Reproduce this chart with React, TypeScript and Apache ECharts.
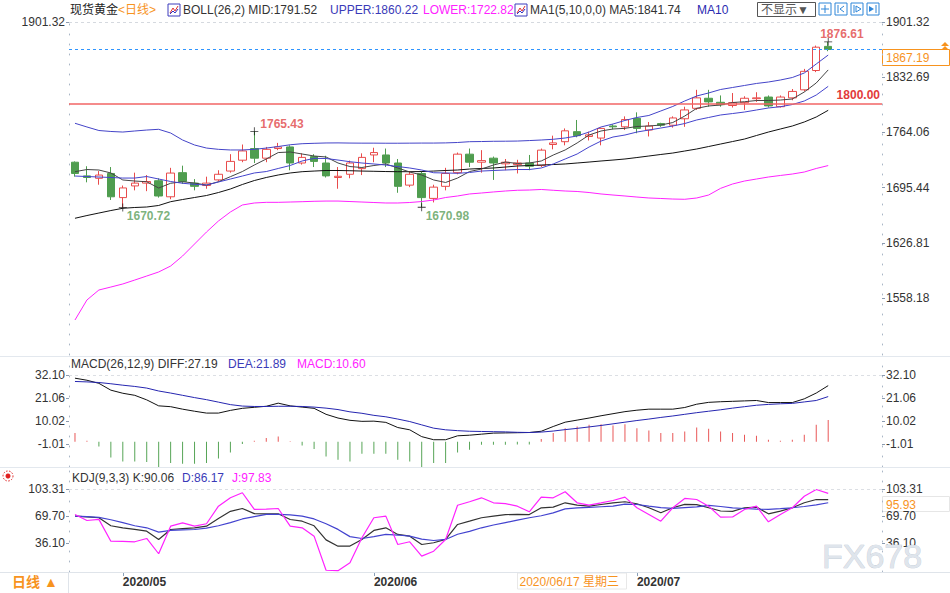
import React, { useEffect, useRef } from "react";
import * as echarts from "echarts";

const FONT = "'Liberation Sans', Arial, 'Noto Sans CJK SC', sans-serif";

const dates: string[] = [
  "2020/04/27","2020/04/28","2020/04/29","2020/04/30",
  "2020/05/01","2020/05/04","2020/05/05","2020/05/06","2020/05/07","2020/05/08",
  "2020/05/11","2020/05/12","2020/05/13","2020/05/14","2020/05/15",
  "2020/05/18","2020/05/19","2020/05/20","2020/05/21","2020/05/22",
  "2020/05/25","2020/05/26","2020/05/27","2020/05/28","2020/05/29",
  "2020/06/01","2020/06/02","2020/06/03","2020/06/04","2020/06/05",
  "2020/06/08","2020/06/09","2020/06/10","2020/06/11","2020/06/12",
  "2020/06/15","2020/06/16","2020/06/17","2020/06/18","2020/06/19",
  "2020/06/22","2020/06/23","2020/06/24","2020/06/25","2020/06/26",
  "2020/06/29","2020/06/30",
  "2020/07/01","2020/07/02","2020/07/03",
  "2020/07/06","2020/07/07","2020/07/08","2020/07/09","2020/07/10",
  "2020/07/13","2020/07/14","2020/07/15","2020/07/16","2020/07/17",
  "2020/07/20","2020/07/21","2020/07/22","2020/07/23",
];
const futureDates: string[] = ["2020/07/24", "2020/07/27", "2020/07/28", "2020/07/29"];
const categories = dates.concat(futureDates);

// [open, close, low, high]
const candles: number[][] = [
  [1727,1713,1709,1728],[1710,1708,1702,1722],[1707,1711,1699,1716],[1713,1684,1680,1721],
  [1683,1695,1670.72,1698],[1697.5,1701,1692,1714],[1701,1703,1691,1711],[1704,1685,1683,1707],
  [1684,1713.5,1681,1720],[1714,1703,1700,1722.7],[1701,1697,1692,1706],[1698,1701,1694,1709],
  [1705,1712,1703,1717],[1716,1728,1714,1737],[1729.5,1741,1727,1749],[1744,1732,1726,1765.43],
  [1732,1743,1727,1746],[1744,1746,1742,1751],[1746,1726,1717,1748],[1726,1733,1724,1738],
  [1734,1728,1721,1737],[1726,1710,1708,1735],[1708,1709.5,1694,1721],[1712,1726,1707,1729],
  [1719,1733,1711,1738],[1736,1739,1727,1745],[1736,1726,1721,1744],[1726,1697,1689,1731],
  [1698.5,1712,1696,1716],[1713,1683,1670.98,1716],[1682,1696,1677,1699],[1697,1713,1692,1720],
  [1714,1737,1712,1739],[1737,1727,1721,1744],[1727,1729,1714,1742],[1732,1726,1705,1734],
  [1725,1727,1717,1731],[1724,1726,1713,1730],[1726,1722,1717,1736],[1723,1742,1721,1744],
  [1749,1751,1743,1760],[1752.5,1766,1748,1769],[1765,1760,1758,1779.5],[1759,1761,1754,1765],
  [1757,1769,1748,1770],[1772,1771,1768,1774],[1771,1780,1767,1784],[1781.5,1769,1763,1789],
  [1767,1772,1759,1777],[1775,1773,1771,1776],[1773,1782,1770,1784],[1781,1792,1771,1796],
  [1794,1807,1792,1817],[1806.5,1802,1796,1817],[1801.5,1798.5,1796,1810],[1797.5,1801,1795,1813],
  [1801,1806.5,1792,1809],[1806,1807,1802,1814],[1808,1797,1795,1810],[1796,1808,1795,1810],
  [1807,1815,1804,1818],[1817,1840,1815,1843],[1841,1870,1839,1872],[1871,1867.19,1865,1876.61],
];

const bollMid: number[] = [
  1657.3,1660.7,1663.8,1666.9,1669.7,1670.7,1671.3,1673.2,1677.9,1680.6,
  1683.1,1685.6,1689.3,1693.7,1699.3,1704.2,1708.0,1711.1,1713.6,1715.2,
  1716.0,1716.7,1716.7,1716.4,1716.0,1715.7,1715.4,1715.2,1715.2,1715.4,
  1716.0,1716.7,1717.3,1718.5,1719.2,1719.8,1721.0,1722.3,1722.9,1723.5,
  1724.1,1724.8,1726.0,1727.2,1728.5,1729.7,1731.0,1732.8,1734.7,1736.6,
  1738.4,1740.9,1743.4,1746.5,1749.6,1752.7,1755.8,1760.2,1764.5,1768.3,
  1772.0,1777.0,1783.2,1791.52,
];
const bollUpper: number[] = [
  1775.4,1770.8,1766.4,1765.2,1764.5,1765.8,1767.0,1767.9,1763.3,1754.6,
  1748.4,1744.6,1743.0,1742.2,1742.2,1743.0,1744.6,1746.5,1748.7,1750.0,
  1750.5,1750.9,1751.0,1750.8,1750.7,1750.7,1750.6,1750.6,1750.7,1750.8,
  1750.8,1751.0,1751.5,1752.5,1752.7,1753.0,1753.1,1753.3,1753.9,1754.6,
  1755.5,1757.1,1759.6,1764.5,1770.8,1774.5,1778.9,1782.6,1785.1,1790.7,
  1796.3,1803.1,1809.3,1813.1,1817.4,1819.9,1822.4,1824.9,1826.7,1829.2,
  1832.3,1837.9,1849.1,1860.22,
];
const bollLower: number[] = [
  1530.8,1555.7,1568.1,1571.8,1575.6,1580.5,1585.5,1590.5,1597.9,1610.4,
  1625.3,1640.2,1653.9,1665.1,1673.8,1676.3,1677.1,1677.1,1677.5,1677.9,
  1678.4,1678.7,1678.7,1678.1,1677.5,1676.9,1676.3,1676.3,1676.9,1678.1,
  1680.0,1683.1,1685.0,1687.5,1688.7,1690.0,1691.2,1692.1,1692.4,1693.1,
  1692.1,1691.2,1690.6,1689.3,1687.5,1686.2,1685.0,1683.7,1682.5,1681.9,
  1681.2,1680.9,1682.5,1686.2,1694.5,1699.9,1703.6,1706.1,1708.6,1710.5,
  1712.3,1714.8,1719.2,1722.82,
];
const ma5: number[] = [
  1715.2,1717.9,1717.3,1713.6,1704.9,1703.6,1702.7,1694.9,1700.8,1702.7,
  1701.1,1698.6,1702.7,1709.0,1715.4,1723.5,1731.0,1739.0,1739.7,1737.2,
  1734.7,1733.5,1726.0,1721.6,1720.4,1722.9,1724.8,1719.8,1714.8,1711.1,
  1704.9,1701.8,1707.3,1715.4,1718.5,1723.5,1727.2,1725.4,1726.0,1728.5,
  1735.9,1742.2,1750.9,1760.8,1765.8,1768.3,1769.1,1771.4,1772.0,1773.2,
  1776.3,1784.4,1794.0,1796.9,1798.1,1801.2,1802.2,1803.7,1803.7,1804.3,
  1805.6,1814.3,1825.5,1841.74,
];
const ma10: number[] = [
  1709.8,1709.2,1708.6,1708.0,1707.3,1707.3,1709.2,1706.1,1703.0,1700.8,
  1699.5,1698.6,1702.4,1706.1,1709.8,1713.6,1715.4,1719.2,1722.9,1728.5,
  1731.8,1731.6,1729.7,1727.6,1726.0,1724.8,1723.5,1721.6,1719.8,1717.3,
  1713.9,1713.6,1713.2,1714.2,1716.0,1716.7,1717.3,1717.9,1717.9,1719.8,
  1724.8,1731.0,1737.2,1745.9,1753.3,1758.3,1760.8,1764.5,1767.0,1769.5,
  1772.0,1775.1,1779.5,1782.6,1785.7,1787.5,1789.4,1791.9,1794.4,1796.0,
  1798.7,1803.1,1810.5,1821.3,
];

const macdDiff: number[] = [
  30.8,29.8,28.3,25.0,23.5,22.5,20.3,17.4,17.0,15.8,
  14.8,13.9,13.9,15.2,16.2,16.7,17.2,18.7,17.4,16.8,
  16.2,13.3,11.5,10.4,9.9,10.0,9.4,6.9,5.8,2.5,
  1.0,1.0,2.9,3.2,3.7,4.2,4.3,4.4,4.5,5.1,
  7.4,9.5,10.5,11.5,12.6,13.6,14.6,15.3,15.8,15.8,
  15.8,16.6,18.2,19.1,19.4,19.6,19.8,20.0,19.0,19.0,
  19.0,20.8,23.6,27.19,
];
const macdDea: number[] = [
  29.2,29.0,28.7,28.1,27.4,26.8,26.0,24.6,23.6,22.5,
  21.4,20.4,19.2,18.0,17.3,17.1,17.1,17.2,17.2,17.1,
  16.8,16.3,15.6,14.5,13.8,12.8,12.1,11.0,9.8,8.2,
  6.6,5.8,5.4,5.1,5.0,4.9,4.8,4.6,4.5,4.7,
  5.2,5.9,6.5,7.2,7.9,8.7,9.5,10.3,11.0,11.8,
  12.5,13.3,14.1,14.8,15.5,16.3,17.0,17.7,18.1,18.4,
  18.6,19.3,20.0,21.89,
];
const macdHist: number[] = [
  4.2,0.5,-2.3,-7.6,-9.5,-9.5,-9.8,-12.3,-10.3,-10.6,
  -10.6,-10.3,-8.1,-5.2,-1.1,0.5,1.8,2.6,0.3,-1.8,
  -3.5,-7.1,-8.7,-9.5,-5.8,-5.8,-5.8,-8.7,-9.5,-12.3,
  -10.3,-10.3,-5.2,-3.8,-1.4,-1.4,-1.4,-1.3,-1.3,1.3,
  4.2,6.6,7.4,8.2,8.5,7.9,8.5,6.6,5.5,4.2,
  4.2,5.0,6.9,6.3,5.0,4.2,3.4,2.9,1.0,0.5,
  1.0,3.4,8.2,10.6,
];

const kdjK: number[] = [
  69.5,68.5,67.5,57.5,55,53,50.8,40.5,52.9,54,
  55,57,66.5,75.5,79,72.6,72.2,72.5,65.3,63.2,
  57.5,40,32.1,32.3,40.5,51.7,55,46.7,44.6,34.2,
  36.4,40.5,59.1,63.2,67.5,69.5,71.4,71.8,71.5,79.9,
  80.7,86.1,83.1,81.9,84,86.1,87.4,84.9,79.9,73.7,
  79.9,84.2,83.8,79.9,75.9,75.5,79.9,80.7,72.4,75.7,
  79.9,86.1,90.2,90.06,
];
const kdjD: number[] = [
  69.5,69,68,65,61.5,57.5,55,49.6,51.7,52.3,
  52.9,54.5,57.5,61.5,66,69,71.6,71.7,71,69.5,
  66,60,53,44,41.7,44,46.7,46,44.6,41,
  39.2,40.5,47,50.5,55,58.5,61.5,64.5,67.5,70,
  73.5,78.5,79.8,80.5,81.2,81.9,84.5,84,82,80.2,
  79.2,80.2,81,83,81.5,79.8,79,78.3,77.8,78.8,
  79.9,81.5,83.5,86.17,
];
const kdjJ: number[] = [
  71.6,64.1,65.5,38.3,38,37.6,41.7,22.7,57,61.2,
  57,60,81.9,92.3,98.6,77.8,78.2,79,57,55,
  44.6,2.2,1.6,11.5,42.6,67.5,69.5,34.2,37.6,19.7,
  25.9,40.5,83,87.4,92.3,86.1,85,81.9,74.9,93.1,
  92.3,99.8,86.1,83.1,86,89,93.1,79.9,71.6,63.2,
  79.9,91.5,90.2,81.9,68.2,68.4,77.8,81.9,62.5,71.6,
  79.9,94.3,102.7,97.83,
];

const mainTicks: number[] = [1901.32, 1832.69, 1764.06, 1695.44, 1626.81, 1558.18];
const mainLeftTicks: number[] = [1901.32];
const macdTicks: number[] = [32.10, 21.06, 10.02, -1.01];
const kdjTicks: number[] = [103.31, 69.70, 36.10];

const extremeDates: string[] = ["2020/05/01", "2020/05/18", "2020/06/05", "2020/07/23"];
const extremeValues: number[] = [1670.72, 1765.43, 1670.98, 1876.61];
const extremeIsHigh: boolean[] = [false, true, false, true];

const supportLevel = 1800;
const kdjMarkValue = 95.93;
const hoverDate = "2020/06/17";

const RED = "#e84b4b";
const GREEN = "#4f9d4f";
const ORANGE = "#f7931e";
const BLUE = "#3a3ab8";
const MAGENTA = "#ff22ff";

const last = (a: number[]) => a[a.length - 1];
const fmt = (v: number) => v.toFixed(2);

function isMonthStart(idx: number, val: string) {
  if (idx <= 0 || idx >= dates.length) return false;
  return val.slice(0, 7) !== categories[idx - 1].slice(0, 7);
}

function makeY(gridIndex: number, position: string, min: number, max: number, ticks: number[]) {
  return {
    type: "value",
    gridIndex,
    position,
    min,
    max,
    splitLine: { show: false },
    axisLine: { show: true, onZero: false, lineStyle: { color: "#a9b6c6", type: [1, 9] } },
    axisTick: { show: true, customValues: ticks, length: 3, lineStyle: { color: "#8b9bb0" } },
    axisLabel: {
      show: true,
      customValues: ticks,
      formatter: (v: number) => fmt(v),
      color: "#333",
      fontSize: 12,
      fontFamily: FONT,
      margin: 4,
    },
  };
}

const lineSeries = (name: string, data: number[], xi: number, yi: number, color: string, width = 1) => ({
  type: "line",
  name,
  data,
  xAxisIndex: xi,
  yAxisIndex: yi,
  symbol: "none",
  silent: true,
  lineStyle: { color, width },
  z: 4,
});

function buildOption(): any {
  const baseX = {
    type: "category",
    data: categories,
    boundaryGap: true,
    axisLine: { show: false },
    axisTick: { show: false },
    axisLabel: { show: false },
    splitLine: { show: false },
  };
  const labelPos = extremeIsHigh.map((h, i) => (i === 3 ? [-4, -4] : h ? [10, -3] : [8, 13]));
  return {
    animation: false,
    textStyle: { fontFamily: FONT },
    grid: [
      { left: 69, right: 68, top: 21, height: 334 },
      { left: 69, right: 68, top: 360, height: 107 },
      { left: 69, right: 68, top: 470, height: 102 },
    ],
    xAxis: [
      { ...baseX, gridIndex: 0 },
      { ...baseX, gridIndex: 1 },
      {
        ...baseX,
        gridIndex: 2,
        axisLine: { show: true, lineStyle: { color: "#dde3ea" } },
        axisTick: { show: true, alignWithLabel: true, interval: isMonthStart, length: 4, lineStyle: { color: "#8aa0b8" } },
        axisLabel: {
          show: true,
          interval: isMonthStart,
          formatter: (v: string) => v.slice(0, 7),
          align: "left",
          color: "#333",
          fontWeight: "bold",
          fontSize: 12,
          fontFamily: FONT,
          margin: 4,
        },
      },
    ],
    yAxis: [
      makeY(0, "right", 1487.3, 1902.56, mainTicks),
      makeY(0, "left", 1487.3, 1902.56, mainLeftTicks),
      makeY(1, "right", -12.2, 39.6, macdTicks),
      makeY(1, "left", -12.2, 39.6, macdTicks),
      makeY(2, "right", 0, 126.9, kdjTicks),
      makeY(2, "left", 0, 126.9, kdjTicks),
    ],
    series: [
      {
        type: "candlestick",
        name: "现货黄金",
        data: candles,
        xAxisIndex: 0,
        yAxisIndex: 0,
        barWidth: 8,
        silent: true,
        z: 3,
        itemStyle: { color: "#ffffff", color0: GREEN, borderColor: RED, borderColor0: GREEN, borderWidth: 1 },
        markLine: {
          silent: true,
          symbol: ["none", "none"],
          animation: false,
          data: [
            { yAxis: mainTicks[0], lineStyle: { color: "#d5d9df", type: [3, 3], width: 1 }, label: { show: false } },
            { yAxis: last(candles)[1], lineStyle: { color: "#2f95ff", type: [3, 3], width: 1 }, label: { show: false } },
            {
              yAxis: supportLevel,
              lineStyle: { color: "#f26464", type: "solid", width: 1.5 },
              label: {
                show: true,
                position: "insideEndTop",
                formatter: fmt(supportLevel),
                color: "#e23a3a",
                fontWeight: "bold",
                fontSize: 12,
                fontFamily: FONT,
                distance: 2,
              },
            },
          ],
        },
      },
      lineSeries("MID", bollMid, 0, 0, "#111111"),
      lineSeries("UPPER", bollUpper, 0, 0, "#4444c8"),
      lineSeries("LOWER", bollLower, 0, 0, MAGENTA),
      lineSeries("MA5", ma5, 0, 0, "#444444"),
      lineSeries("MA10", ma10, 0, 0, "#4444cc"),
      {
        type: "scatter",
        name: "extremes",
        xAxisIndex: 0,
        yAxisIndex: 0,
        silent: true,
        z: 6,
        symbol: "path://M0 4.5L10 4.5L10 5.5L0 5.5Z M4.5 0L5.5 0L5.5 10L4.5 10Z",
        symbolSize: 8,
        itemStyle: { color: "#000" },
        data: extremeDates.map((d, i) => ({
          value: [d, extremeValues[i]],
          label: {
            show: true,
            formatter: fmt(extremeValues[i]),
            position: labelPos[i],
            align: "left",
            verticalAlign: "middle",
            color: extremeIsHigh[i] ? "#e04545" : "#5a9e5a",
            fontWeight: "bold",
            fontSize: 12,
            fontFamily: FONT,
          },
        })),
      },
      {
        type: "bar",
        name: "MACD",
        data: macdHist,
        xAxisIndex: 1,
        yAxisIndex: 2,
        barWidth: 1,
        silent: true,
        itemStyle: { color: (p: any) => (p.value >= 0 ? "#e95757" : "#57a557") },
      },
      {
        ...lineSeries("DIFF", macdDiff, 1, 2, "#111111"),
        markLine: {
          silent: true,
          symbol: ["none", "none"],
          animation: false,
          data: [{ yAxis: macdTicks[0], lineStyle: { color: "#dcdfe4", type: [3, 3], width: 1 }, label: { show: false } }],
        },
      },
      lineSeries("DEA", macdDea, 1, 2, "#2525b0"),
      {
        ...lineSeries("K", kdjK, 2, 4, "#333333", 1.2),
        markLine: {
          silent: true,
          symbol: ["none", "none"],
          animation: false,
          data: [{ yAxis: kdjTicks[0], lineStyle: { color: "#dcdfe4", type: [3, 3], width: 1 }, label: { show: false } }],
        },
      },
      lineSeries("D", kdjD, 2, 4, "#4343cf", 1.2),
      lineSeries("J", kdjJ, 2, 4, MAGENTA, 1.2),
    ],
  };
}

function txt(x: number, y: number, text: string, fill: string, extra: any = {}) {
  return {
    type: "text",
    x,
    y,
    silent: true,
    z: 50,
    style: {
      text,
      fill,
      fontSize: 12,
      fontFamily: FONT,
      verticalAlign: "middle",
      textVerticalAlign: "middle",
      ...extra,
    },
  };
}

function legendIcon(x: number, y: number) {
  return {
    type: "group",
    x,
    y,
    silent: true,
    z: 50,
    children: [
      { type: "rect", shape: { x: 0, y: 0, width: 12, height: 12 }, style: { fill: "#fff", stroke: "#3d3dbd", lineWidth: 1 } },
      { type: "polyline", shape: { points: [[2, 9], [5, 4], [7, 7], [10, 2]] }, style: { stroke: "#e03030", fill: null, lineWidth: 1 } },
      { type: "polyline", shape: { points: [[2, 10], [5, 7], [7, 9], [10, 5]] }, style: { stroke: "#3030c0", fill: null, lineWidth: 1 } },
    ],
  };
}

function toolButton(x: number, kind: number) {
  const glyph: any[] = [];
  const s = { stroke: "#2f86d8", lineWidth: 1, fill: null };
  if (kind === 0) {
    glyph.push({ type: "line", shape: { x1: 6, y1: 2, x2: 6, y2: 10 }, style: s });
    glyph.push({ type: "line", shape: { x1: 2, y1: 6, x2: 10, y2: 6 }, style: s });
  } else if (kind === 1) {
    glyph.push({ type: "line", shape: { x1: 3, y1: 2, x2: 3, y2: 10 }, style: s });
    glyph.push({ type: "polyline", shape: { points: [[9, 3], [5, 6], [9, 9]] }, style: s });
  } else if (kind === 2) {
    glyph.push({ type: "line", shape: { x1: 3, y1: 2, x2: 3, y2: 10 }, style: s });
    glyph.push({ type: "polygon", shape: { points: [[5, 3], [10, 6], [5, 9]] }, style: s });
  } else {
    glyph.push({ type: "polygon", shape: { points: [[2, 3], [7, 6], [2, 9]] }, style: { fill: "#2f86d8" } });
    glyph.push({ type: "line", shape: { x1: 9, y1: 2, x2: 9, y2: 10 }, style: s });
  }
  return {
    type: "group",
    x,
    y: 3,
    silent: true,
    z: 50,
    children: [
      { type: "rect", shape: { x: 0, y: 0, width: 12, height: 12 }, style: { fill: "#fff", stroke: "#2f86d8", lineWidth: 1 } },
      ...glyph,
    ],
  };
}

function buildGraphics(chart: echarts.ECharts): any[] {
  const yPrice = chart.convertToPixel({ yAxisIndex: 0 } as any, last(candles)[1]) as number;
  const yKdj = chart.convertToPixel({ yAxisIndex: 4 } as any, kdjMarkValue) as number;
  const xHover = chart.convertToPixel({ xAxisIndex: 2 } as any, hoverDate) as number;
  const weekNames = ["星期日", "星期一", "星期二", "星期三", "星期四", "星期五", "星期六"];
  const hoverText = `${hoverDate} ${weekNames[new Date(hoverDate).getDay()]}`;
  const sep = { stroke: "#e3e8ee", lineWidth: 1 };
  return [
    { type: "line", silent: true, z: 1, shape: { x1: 0, y1: 356.5, x2: 950, y2: 356.5 }, style: sep },
    { type: "line", silent: true, z: 1, shape: { x1: 0, y1: 467.5, x2: 950, y2: 467.5 }, style: sep },
    { type: "line", silent: true, z: 1, shape: { x1: 0, y1: 572.5, x2: 950, y2: 572.5 }, style: { stroke: "#dfe4ea", lineWidth: 1 } },
    { type: "line", silent: true, z: 1, shape: { x1: 68.5, y1: 572, x2: 68.5, y2: 593 }, style: { stroke: "#dfe4ea", lineWidth: 1 } },
    txt(70, 10, "现货黄金", "#222"),
    txt(118, 10, "<日线>", ORANGE),
    legendIcon(168, 4),
    txt(183, 10, `BOLL(26,2) MID:${fmt(last(bollMid))}`, "#333"),
    txt(330, 10, `UPPER:${fmt(last(bollUpper))}`, BLUE),
    txt(423, 10, `LOWER:${fmt(last(bollLower))}`, MAGENTA),
    legendIcon(515, 4),
    txt(530, 10, `MA1(5,10,0,0) MA5:${fmt(last(ma5))}`, "#333"),
    txt(697, 10, "MA10", "#2a2ab0"),
    {
      type: "rect",
      silent: true,
      z: 50,
      shape: { x: 757.5, y: 2.5, width: 58, height: 14 },
      style: { fill: "#fff", stroke: "#555", lineWidth: 1 },
    },
    txt(761, 10, "不显示▼", "#555"),
    toolButton(819, 0),
    toolButton(835, 1),
    toolButton(851, 2),
    toolButton(867, 3),
    txt(71, 364, `MACD(26,12,9) DIFF:${fmt(last(macdDiff))}`, "#333"),
    txt(228, 364, `DEA:${fmt(last(macdDea))}`, BLUE),
    txt(297, 364, `MACD:${fmt(last(macdHist))}`, MAGENTA),
    txt(72, 478, `KDJ(9,3,3) K:${fmt(last(kdjK))}`, "#333"),
    txt(182, 478, `D:${fmt(last(kdjD))}`, BLUE),
    txt(232, 478, `J:${fmt(last(kdjJ))}`, MAGENTA),
    { type: "circle", silent: true, z: 50, shape: { cx: 8, cy: 476, r: 2.5 }, style: { fill: "#e02020" } },
    { type: "circle", silent: true, z: 50, shape: { cx: 8, cy: 476, r: 5 }, style: { fill: null, stroke: "#e02020", lineWidth: 1, lineDash: [1.5, 1.5] } },
    txt(12, 582, "日线 ▲", ORANGE, { fontSize: 14, fontWeight: "bold" }),
    {
      type: "group",
      x: 882,
      y: Math.round(yPrice) + 0.5,
      silent: true,
      z: 60,
      children: [
        { type: "rect", shape: { x: 0.5, y: 0, width: 67, height: 16 }, style: { fill: "#fff", stroke: ORANGE, lineWidth: 1 } },
        { type: "text", x: 4, y: 8.5, style: { text: fmt(last(candles)[1]), fill: ORANGE, fontSize: 12, fontFamily: FONT, verticalAlign: "middle", textVerticalAlign: "middle" } },
      ],
    },
    { type: "polygon", silent: true, z: 60, shape: { points: [[941, 46], [945, 42], [949, 46]] }, style: { fill: ORANGE } },
    { type: "polygon", silent: true, z: 60, shape: { points: [[941, 50], [945, 46], [949, 50]] }, style: { fill: ORANGE } },
    {
      type: "group",
      x: 882,
      y: Math.round(yKdj) + 1.5,
      silent: true,
      z: 60,
      children: [
        { type: "rect", shape: { x: 0.5, y: 0, width: 67, height: 15 }, style: { fill: "#fff", stroke: "#e6e6e6", lineWidth: 1 } },
        { type: "text", x: 4, y: 8, style: { text: fmt(kdjMarkValue), fill: ORANGE, fontSize: 12, fontFamily: FONT, verticalAlign: "middle", textVerticalAlign: "middle" } },
      ],
    },
    {
      type: "group",
      x: Math.round(xHover) + 0.5,
      y: 573,
      silent: true,
      z: 60,
      children: [
        { type: "rect", shape: { x: 0, y: 0, width: 109, height: 16 }, style: { fill: "#fff", stroke: "#e8e8e8", lineWidth: 1 } },
        { type: "text", x: 2, y: 8.5, style: { text: hoverText, fill: ORANGE, fontSize: 12, fontFamily: FONT, verticalAlign: "middle", textVerticalAlign: "middle" } },
      ],
    },
    {
      type: "text",
      x: 822,
      y: 556,
      silent: true,
      z: 70,
      style: {
        text: "FX678",
        fill: "#dfe5ec",
        stroke: "#b9c4d1",
        lineWidth: 0.6,
        fontSize: 34,
        fontFamily: FONT,
        verticalAlign: "middle",
        textVerticalAlign: "middle",
      },
    },
  ];
}

export default function App() {
  const ref = useRef<HTMLDivElement>(null);
  useEffect(() => {
    if (!ref.current) return;
    const chart = echarts.init(ref.current, undefined, { renderer: "svg" });
    chart.setOption(buildOption());
    chart.setOption({ graphic: buildGraphics(chart) });
    return () => chart.dispose();
  }, []);
  return (
    <div
      ref={ref}
      style={{ position: "absolute", left: 0, top: 0, width: 950, height: 593, background: "#fff" }}
    />
  );
}
